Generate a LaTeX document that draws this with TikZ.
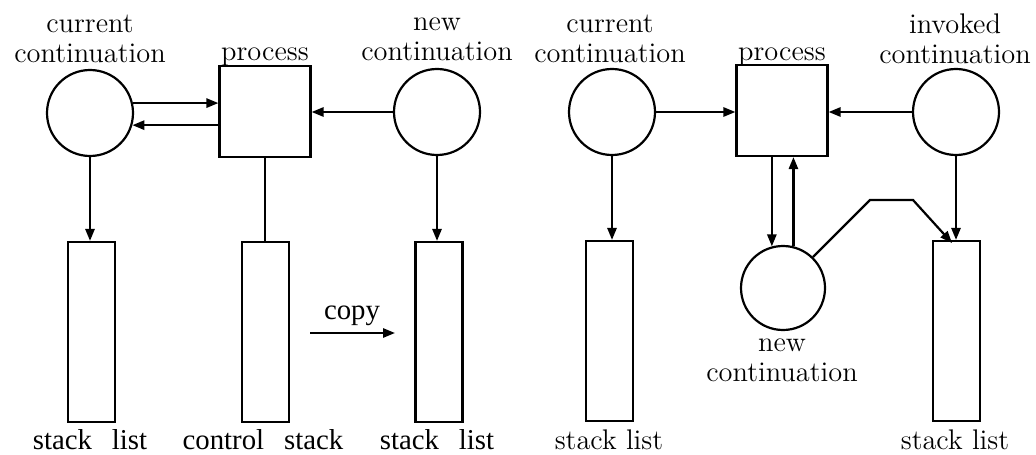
\documentclass[tikz,border=0pt]{standalone}
\usepackage{fontspec}
\newfontfamily\timesfont{Liberation Serif}
\usetikzlibrary{arrows.meta}
\begin{document}
\begin{tikzpicture}[x=0.5pt,y=-0.5pt,
  every node/.style={font=\fontsize{14.2}{15}\selectfont},
  lw/.style={line width=1.1pt},
  circ/.style={lw,draw,circle,minimum size=43pt,inner sep=0pt},
  sq/.style={lw,draw,rectangle,minimum width=45.5pt,minimum height=45.5pt,inner sep=0pt},
  stk/.style={lw,draw,rectangle,minimum width=23.5pt,minimum height=90pt,inner sep=0pt},
  arr/.style={lw,-{Triangle[length=6pt,width=4.6pt]}},
  ln/.style={lw},
  lab/.style={align=center,inner sep=0pt},
  tlab/.style={inner sep=0pt,font=\timesfont\fontsize{14.4}{16}\selectfont}]
\useasboundingbox (0,0) rectangle (1036,454);
% ---------- left diagram ----------
\node[circ] (c1) at (90,113) {};
\node[sq] (q1) at (265,111.5) {};
\node[circ] (c2) at (437,112) {};
\node[stk] (s1) at (91.5,332) {};
\node[stk] (s2) at (265.5,332) {};
\node[stk] (s3) at (439,332) {};
\node[lab] (l1) at (90,39) {current\\continuation};
\node[lab] (l2) at (265,57) {process};
\node[lab] (l3) at (437,39) {new\\continuation};
\node[tlab] (b1) at (90,440) {stack\hspace{10pt}list};
\node[tlab] (b2) at (263,440) {control\hspace{10pt}stack};
\node[tlab] (b3) at (437,440) {stack\hspace{10pt}list};
\draw[arr] (c1.13) -- (c1.13 -| q1.west);
\draw[arr] (q1.west |- c1.-16) -- (c1.-16);
\draw[arr] (c2.west) -- (c2.west -| q1.east);
\draw[arr] (c1.south) -- (c1.south |- s1.north);
\draw[ln] (q1.south) -- (q1.south |- s2.north);
\draw[arr] (c2.south) -- (c2.south |- s3.north);
\coordinate (cpA) at (310,333);
\coordinate (cpB) at (395,333);
\draw[arr] (cpA) -- (cpB);
\node[tlab] (cp) at (352,316) {copy};
% ---------- right diagram ----------
\node[circ] (c3) at (612,112) {};
\node[sq] (q2) at (782,110.5) {};
\node[circ] (c4) at (956,112) {};
\node[circ,minimum size=42pt] (c5) at (783,288) {};
\node[stk] (s4) at (609.5,331) {};
\node[stk] (s5) at (956.5,331) {};
\node[lab] (l4) at (610,39) {current\\continuation};
\node[lab] (l5) at (782,57) {process};
\node[lab] (l6) at (955,39) {invoked\\continuation};
\node[lab] (l7) at (782,360) {new\\continuation};
\node[lab] (b4) at (609,440) {stack list};
\node[lab] (b5) at (955,440) {stack list};
\draw[arr] (c3.east) -- (c3.east -| q2.west);
\draw[arr] (c4.west) -- (c4.west -| q2.east);
\draw[arr] (c3.south) -- (c3.south |- s4.north);
\draw[arr] (c4.south) -- (c4.south |- s5.north);
\draw[arr] (q2.south -| c5.105) -- (c5.105);
\draw[arr] (c5.76) -- (c5.76 |- q2.south);
\coordinate (bA) at (870,200);
\coordinate (bB) at (913,200);
\coordinate (bC) at (952,243);
\draw[arr] (c5.46) -- (bA) -- (bB) -- (bC);
\end{tikzpicture}
\end{document}
